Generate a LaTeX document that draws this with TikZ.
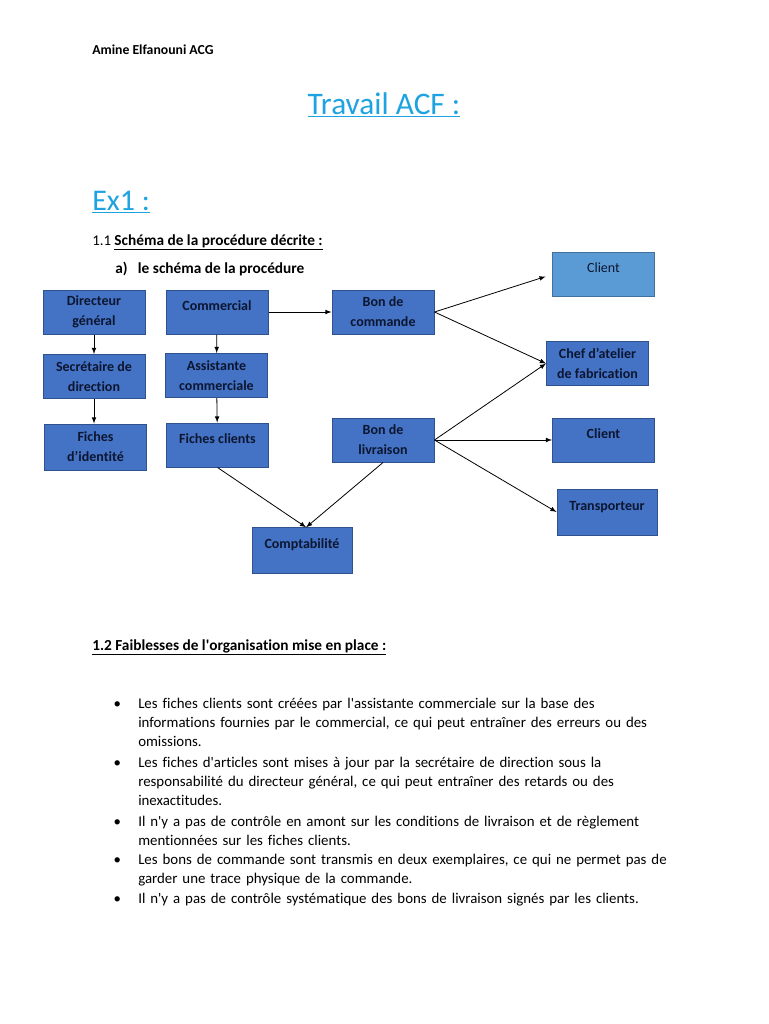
\documentclass[tikz,border=0pt]{standalone}
\usepackage{fontspec}
\setmainfont{Carlito}[Ligatures={TeX,NoCommon}]
\usetikzlibrary{arrows,calc}
\definecolor{boxblue}{RGB}{68,114,196}
\definecolor{boxline}{RGB}{47,82,143}
\definecolor{clientblue}{RGB}{91,155,213}
\definecolor{clientline}{RGB}{65,113,156}
\definecolor{titleblue}{RGB}{30,163,226}
\definecolor{boxtext}{RGB}{12,22,48}
\newcommand{\squote}{\textquotesingle}
\newcommand{\puce}{\llap{\textbullet\hspace{13pt}}}

\begin{document}
\begin{tikzpicture}[x=0.75pt,y=-0.75pt,
  box/.style={rectangle, draw=boxline, fill=boxblue, line width=0.75pt, minimum width=76.5pt, minimum height=33pt, align=center, text=boxtext, font=\fontsize{10.5}{15}\selectfont\bfseries},
  single/.style={text height=7pt, text depth=9.6pt},
  link/.style={-latex, line width=0.6pt, black},
  txt/.style={anchor=base west, inner sep=0pt, font=\fontsize{11.15}{14.25}\selectfont},
  boldtxt/.style={txt, font=\fontsize{11.5}{14.25}\selectfont\bfseries},
  item/.style={txt, text width=460pt, align=left}]

\useasboundingbox[fill=white] (0,0) rectangle (768,1024);

% en-tete et titres
\node[txt, font=\fontsize{10.3}{12}\selectfont\bfseries] (auteur) at (92,55) {Amine Elfanouni ACG};
\node[anchor=base, inner sep=0pt, text=titleblue, font=\fontsize{23.5}{28}\selectfont] (titre) at (384,114) {\underline{Travail ACF :}};
\node[txt, text=titleblue, font=\fontsize{22.5}{28}\selectfont] (ex) at (92,210) {\underline{Ex1 :}};
\node[txt] (q11) at (92,245) {1.1 {\fontsize{11.5}{14.25}\selectfont\bfseries\underline{Schéma de la procédure décrite :}}};
\node[boldtxt] (qa) at (115,273) {\makebox[17pt][l]{a)}le schéma de la procédure};

% le schema
\node[box] (dg) at (94,312) {Directeur\\ général};
\node[box] (sd) at (94,376.5) {Secrétaire de\\ direction};
\node[box, minimum height=34.5pt] (fi) at (95.5,447) {Fiches\\ d’identité};
\node[box, single] (com) at (217,312) {Commercial};
\node[box] (ac) at (216.5,375.5) {Assistante\\ commerciale};
\node[box, single] (fc) at (217.5,445) {Fiches clients};
\node[box] (bc) at (383,312) {Bon de\\ commande};
\node[box] (bl) at (383,440) {Bon de\\ livraison};
\node[box, single, draw=clientline, fill=clientblue, font=\fontsize{10.5}{15}\selectfont] (cl1) at (603.5,274.5) {Client};
\node[box] (chef) at (597.5,363.5) {Chef d’atelier\\ de fabrication};
\node[box, single] (cl2) at (603.5,440) {Client};
\node[box, single, minimum width=75pt, minimum height=34.5pt] (tr) at (607,512) {Transporteur};
\node[box, single, minimum width=75pt, minimum height=34pt] (compta) at (302,550.5) {Comptabilité};

\draw[link] (dg) -- (sd);
\draw[link] (sd.south) -- (sd.south |- fi.north);
\draw[link] (com) -- (ac);
\draw[link] (ac) -- (fc);
\draw[link] (com) -- (bc);
\draw[link, shorten >=5pt] (bc.east) -- (cl1.west);
\draw[link] (bc.east) -- (chef.west);
\draw[link] (bl.east) -- (chef.west);
\draw[link] (bl.east) -- (cl2.west);
\draw[link] (bl.east) -- (tr.west);
\draw[link] (fc.south) -- (compta.80);
\draw[link] (bl.south) -- (compta.80);

% faiblesses
\node[boldtxt] (q12) at (92,650) {\underline{1.2 Faiblesses de l\squote organisation mise en place :}};
\node[item] (f1) at (138,708) {\puce Les fiches clients sont créées par l\squote assistante commerciale sur la base des\\ informations fournies par le commercial, ce qui peut entraîner des erreurs ou des\\ omissions.};
\node[item] (f2) at (138,767) {\puce Les fiches d\squote articles sont mises à jour par la secrétaire de direction sous la\\ responsabilité du directeur général, ce qui peut entraîner des retards ou des\\ inexactitudes.};
\node[item] (f3) at (138,826) {\puce Il n\squote y a pas de contrôle en amont sur les conditions de livraison et de règlement\\ mentionnées sur les fiches clients.};
\node[item] (f4) at (138,864) {\puce Les bons de commande sont transmis en deux exemplaires, ce qui ne permet pas de\\ garder une trace physique de la commande.};
\node[item] (f5) at (138,903) {\puce Il n\squote y a pas de contrôle systématique des bons de livraison signés par les clients.};

\end{tikzpicture}
\end{document}
